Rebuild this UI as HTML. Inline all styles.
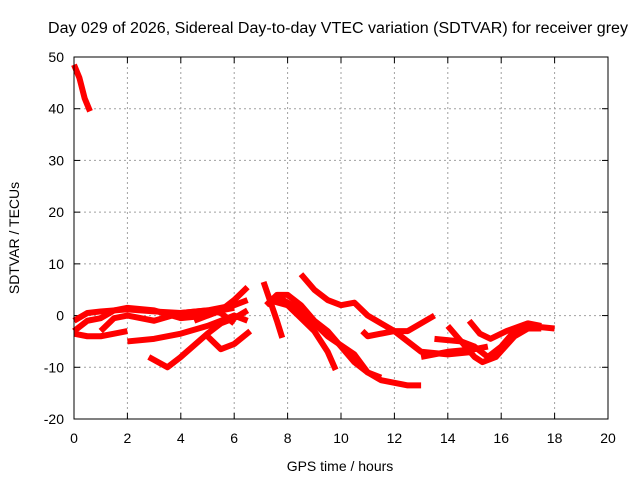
<!DOCTYPE html>
<html><head><meta charset="utf-8"><style>
body{margin:0;background:#fff}
svg{display:block;font-family:"Liberation Sans",sans-serif}
</style></head><body>
<svg id="chart" width="640" height="480">
<text x="48" y="33" font-size="15.5" textLength="580" lengthAdjust="spacingAndGlyphs">Day 029 of 2026, Sidereal Day-to-day VTEC variation (SDTVAR) for receiver grey</text>
<g id="grid"></g>
<g id="ticks"></g>
<g id="series"></g>
<rect x="74" y="57" width="534" height="362" fill="none" stroke="#000" stroke-width="1"/>
<text x="340" y="471" font-size="14" text-anchor="middle">GPS time / hours</text>
<text transform="translate(19,238) rotate(-90)" font-size="14" text-anchor="middle">SDTVAR / TECUs</text>
</svg>
<script>
const xTicks=[0,2,4,6,8,10,12,14,16,18,20];
const yTicks=[-20,-10,0,10,20,30,40,50];
const s1=[[0,48.5],[0.2,46],[0.4,42],[0.6,39.5]];
const s2=[[0,-1],[0.5,0.5],[1,0.8],[2,1.2],[3,0.8],[4,0.5],[5,1],[5.5,1.5],[6,2],[6.5,3]];
const s3=[[0,-3],[0.5,-1],[1,-0.5],[1.5,1],[2,1.5],[3,1],[4,-0.5],[5,0],[5.5,1],[6,1.5]];
const s4=[[0,-3.5],[0.5,-4],[1,-4],[1.5,-3.5],[2,-3]];
const s5=[[2,-5],[3,-4.5],[4,-3.5],[5,-2],[5.5,-1],[6,0],[6.5,-1]];
const s6=[[2.8,-8],[3.5,-10],[4,-8],[5,-3.5],[5.5,-1.5],[6,-0.5],[6.5,1]];
const s7=[[5,-4],[5.5,-6.5],[6,-5.5],[6.6,-3]];
const s8=[[4.5,-1],[5.5,1],[6,3],[6.5,5.5]];
const s9=[[1,-3],[1.5,-0.5],[2,0],[3,-1],[4,0.5],[5,1],[5.5,0.5],[6,-1.5]];
const s10=[[7.1,6.5],[7.4,2],[7.6,-1],[7.8,-4.3]];
const s11=[[7.2,2],[7.6,4],[8,4],[8.5,2],[9,-1],[9.5,-3],[10,-6],[10.5,-9],[11,-11],[11.5,-12.5],[12,-13],[12.5,-13.5],[13,-13.5]];
const s12=[[7.3,3],[8,2],[8.5,-0.5],[9,-3],[9.5,-7],[9.8,-10.5]];
const s13=[[7.5,4],[8.5,1],[9.5,-4],[10.5,-7.5],[11,-11],[11.5,-12]];
const s14=[[8.5,8],[9,5],[9.5,3],[10,2],[10.5,2.5],[11,0],[12,-3],[13,-7],[14,-7.5],[15,-7]];
const s15=[[10.8,-3],[11,-4],[12,-3],[12.5,-3],[13,-1.5],[13.5,0]];
const s16=[[13.5,-4.5],[14.5,-5],[15,-6],[15.5,-8],[16,-6],[16.5,-3],[17,-2],[18,-2.5]];
const s17=[[14,-2],[14.5,-5],[15,-8],[15.3,-9],[15.8,-8],[16.5,-4],[17,-2.5],[17.5,-2.5]];
const s18=[[14.8,-1],[15.2,-3.5],[15.6,-4.5],[16.2,-3],[17,-1.5],[17.5,-2]];
const s19=[[13,-8],[14,-7],[15,-6.5],[15.5,-6]];
const allSeries=[s1,s2,s3,s4,s5,s6,s7,s8,s9,s10,s11,s12,s13,s14,s15,s16,s17,s18,s19];

const NS="http://www.w3.org/2000/svg";
const X=h=>74+h*(534/20);
const Y=v=>419-(v+20)*(362/70);
const grid=document.getElementById('grid'),ticks=document.getElementById('ticks'),ser=document.getElementById('series');
function mk(tag,attrs,parent){const e=document.createElementNS(NS,tag);for(const k in attrs)e.setAttribute(k,attrs[k]);parent.appendChild(e);return e;}
xTicks.forEach(t=>{
  const x=X(t);
  if(t>0&&t<20){const g=mk('line',{x1:x,y1:57,x2:x,y2:419,stroke:'#a0a0a0','stroke-dasharray':'2,3'},grid);
  
  }
  mk('line',{x1:x,y1:419,x2:x,y2:413,stroke:'#000'},ticks);
  mk('line',{x1:x,y1:57,x2:x,y2:63,stroke:'#000'},ticks);
  const tx=mk('text',{x:x,y:443,'font-size':14,'text-anchor':'middle'},ticks);
  tx.textContent=t;
  
  
});
yTicks.forEach(t=>{
  const y=Y(t);
  if(t>-20&&t<50){const g=mk('line',{x1:74,y1:y,x2:608,y2:y,stroke:'#a0a0a0','stroke-dasharray':'2,3'},grid);
  
  }
  mk('line',{x1:74,y1:y,x2:80,y2:y,stroke:'#000'},ticks);
  mk('line',{x1:608,y1:y,x2:602,y2:y,stroke:'#000'},ticks);
  const tx=mk('text',{x:64,y:y+5,'font-size':14,'text-anchor':'end'},ticks);
  tx.textContent=t;
  
  
});
allSeries.forEach((s,i)=>{
  const p=mk('polyline',{points:s.map(d=>X(d[0])+','+Y(d[1])).join(' '),fill:'none',stroke:'#ff0000','stroke-width':6,'stroke-linejoin':'round'},ser);
  
  
});
</script>
</body></html>
